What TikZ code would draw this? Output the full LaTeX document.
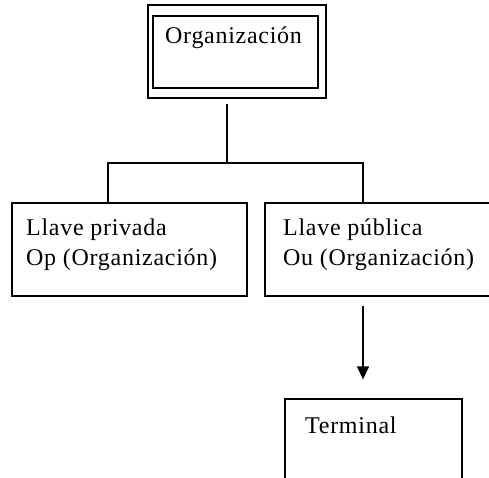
\documentclass[tikz,border=0pt]{standalone}
\usepackage{fontspec}
\setmainfont{Liberation Serif}[LetterSpace=3]
\usetikzlibrary{arrows.meta}
\begin{document}
\begin{tikzpicture}[x=1pt,y=-1pt,
  box/.style={draw, line width=1.3pt, rectangle, inner sep=0pt, minimum width=#1},
  label/.style={anchor=base west, inner sep=0pt, font=\fontsize{24}{30}\selectfont},
  wire/.style={line width=1.3pt}]
\useasboundingbox (0,0) rectangle (489,477);
\clip (0,0) rectangle (489,477);
% top double frame
\node[box=178pt, minimum height=93pt] (topouter) at (237,51.5) {};
\node[box=165pt, minimum height=72pt] (topinner) at (235.5,52) {};
\node[label] (torg) at (165,43) {Organización};
% key boxes
\node[box=235pt, minimum height=93pt] (priv) at (129.5,249.5) {};
\node[box=255pt, minimum height=93pt] (pub) at (392.5,249.5) {};
\node[label] (tpriv1) at (26,235) {Llave privada};
\node[label] (tpriv2) at (26,265) {Op (Organización)};
\node[label] (tpub1) at (283,235) {Llave pública};
\node[label] (tpub2) at (283,265) {Ou (Organización)};
% terminal box, running past the lower edge
\node[box=177pt, minimum height=121pt] (term) at (373.5,459.5) {};
\node[label] (tterm) at (305,433) {Terminal};
% connectors
\coordinate (stem) at (227,104);
\coordinate (bar) at (227,163);
\coordinate (lx) at (108,0);
\coordinate (rx) at (363,0);
\draw[wire] (stem) -- (bar);
\draw[wire] (priv.north -| lx) |- (bar) -| (pub.north -| rx);
\draw[wire, -{Triangle[length=13pt,width=12pt]}] ([yshift=-9pt]pub.south -| rx) -- ([yshift=19pt]term.north -| rx);
\end{tikzpicture}
\end{document}
